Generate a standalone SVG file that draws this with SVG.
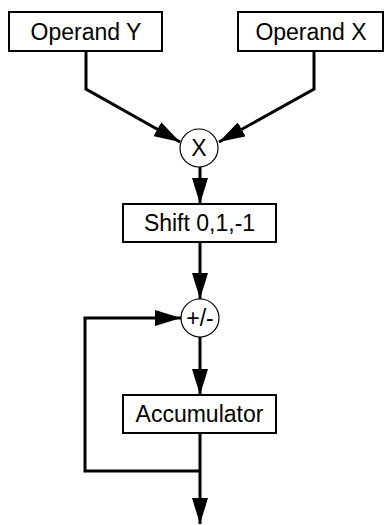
<svg xmlns="http://www.w3.org/2000/svg" width="384" height="525" viewBox="0 0 384 525">
<defs>
<style>
.box{fill:#fff;stroke:#000;stroke-width:2}
.circ{fill:#fff;stroke:#000;stroke-width:1.2}
.lbl{font-family:"Liberation Sans",Arial,sans-serif;font-size:23px;fill:#000;text-anchor:middle}
.wire{fill:none;stroke:#000;stroke-width:3}
</style>
<marker id="arr" markerUnits="userSpaceOnUse" markerWidth="26" markerHeight="16" viewBox="0 0 26 16" refX="26" refY="8" orient="auto">
<path d="M0,0 L26,8 L0,16 Z" fill="#000"/>
</marker>
</defs>
<g id="connectors">
<polyline class="wire" points="86,51 86,89 180,142" marker-end="url(#arr)"/>
<polyline class="wire" points="314,51 314,89 219,142" marker-end="url(#arr)"/>
<line class="wire" x1="200" y1="167" x2="200" y2="204" marker-end="url(#arr)"/>
<line class="wire" x1="200" y1="242" x2="200" y2="299" marker-end="url(#arr)"/>
<line class="wire" x1="200" y1="337" x2="200" y2="395" marker-end="url(#arr)"/>
<line class="wire" x1="200" y1="433" x2="200" y2="524" marker-end="url(#arr)"/>
<polyline class="wire" points="200,471 85,471 85,318 181,318" marker-end="url(#arr)"/>
</g>
<g id="operand-y">
<rect class="box" x="9" y="12" width="153" height="39"/>
<text class="lbl" x="86" y="40">Operand Y</text>
</g>
<g id="operand-x">
<rect class="box" x="238" y="12" width="145" height="39"/>
<text class="lbl" x="311" y="40">Operand X</text>
</g>
<g id="mult">
<circle class="circ" cx="199" cy="148" r="19"/>
<text class="lbl" x="199" y="156">X</text>
</g>
<g id="shift">
<rect class="box" x="123" y="204" width="153" height="38"/>
<text class="lbl" x="199.5" y="231">Shift 0,1,-1</text>
</g>
<g id="addsub">
<circle class="circ" cx="200" cy="318" r="19"/>
<text class="lbl" x="200" y="326">+/-</text>
</g>
<g id="accumulator">
<rect class="box" x="123" y="395" width="153" height="38"/>
<text class="lbl" x="199.5" y="422">Accumulator</text>
</g>
</svg>
